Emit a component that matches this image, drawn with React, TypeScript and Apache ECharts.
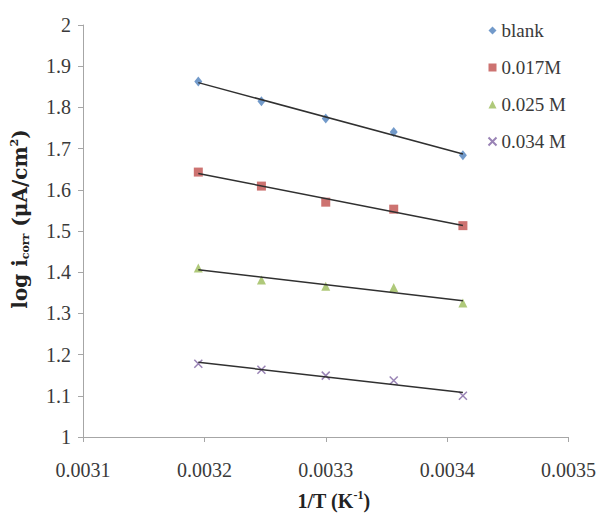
import React, { useEffect, useRef } from "react";
import * as echarts from "echarts";

const xVals = [0.003195, 0.003247, 0.0033, 0.003356, 0.003413];
const blank = [1.863, 1.815, 1.773, 1.74, 1.684];
const m017 = [1.643, 1.609, 1.57, 1.553, 1.513];
const m025 = [1.41, 1.381, 1.366, 1.363, 1.325];
const m034 = [1.178, 1.163, 1.149, 1.137, 1.1];
const seriesNames = ["blank", "0.017M", "0.025 M", "0.034 M"];
const seriesColors = ["#4F81BD", "#C0504D", "#9BBB59", "#8064A2"];
const xTicks = { min: 0.0031, max: 0.0035, interval: 0.0001 };
const yTicks = { min: 1, max: 2, interval: 0.1 };

function fit(xs: number[], ys: number[]): number[][] {
  const n = xs.length;
  const mx = xs.reduce((a, b) => a + b, 0) / n;
  const my = ys.reduce((a, b) => a + b, 0) / n;
  let sxy = 0;
  let sxx = 0;
  for (let i = 0; i < n; i++) {
    sxy += (xs[i] - mx) * (ys[i] - my);
    sxx += (xs[i] - mx) * (xs[i] - mx);
  }
  const b = sxy / sxx;
  const a = my - b * mx;
  const x0 = xs[0];
  const x1 = xs[n - 1];
  return [
    [x0, a + b * x0],
    [x1, a + b * x1],
  ];
}

export default function App() {
  const ref = useRef<HTMLDivElement>(null);
  useEffect(() => {
    document.body.style.margin = "0";
    if (!ref.current) return;
    const chart = echarts.init(ref.current, undefined, { renderer: "svg" });
    const font = "'Liberation Serif', 'Times New Roman', serif";
    const titleFont = "'DejaVu Serif', 'Liberation Serif', serif";
    const textColor = "#3a3a3a";
    const all = [blank, m017, m025, m034];
    const symbols = [
      "diamond",
      "rect",
      "triangle",
      "path://M0 0L10 10M10 0L0 10",
    ];
    const sizes = [[8, 10], 9, [9, 9], 8];
    const scatter = all.map((ys, i) => ({
      name: seriesNames[i],
      type: "scatter",
      symbol: symbols[i],
      symbolSize: sizes[i],
      z: 3,
      itemStyle:
        i === 3
          ? { color: "none", borderColor: seriesColors[i], borderWidth: 1.5 }
          : { color: seriesColors[i] },
      data: xVals.map((x, j) => [x, ys[j]]),
    }));
    const trends = all.map((ys, i) => ({
      name: "trend" + i,
      type: "line",
      showSymbol: false,
      z: 4,
      lineStyle: { color: "#303030", width: 1.5 },
      data: fit(xVals, ys),
    }));
    chart.setOption({
      animation: false,
      backgroundColor: "#ffffff",
      grid: { left: 83, right: 29, top: 25, bottom: 76 },
      legend: {
        data: seriesNames,
        orient: "vertical",
        left: 481,
        top: 16,
        itemWidth: 8,
        itemHeight: 8,
        itemGap: 18,
        textStyle: {
          fontFamily: font,
          fontSize: 19,
          color: textColor,
          lineHeight: 19,
        },
      },
      xAxis: {
        type: "value",
        min: xTicks.min,
        max: xTicks.max,
        interval: xTicks.interval,
        name: "{b|1/T (K}{sup|-1}{b|)}",
        nameLocation: "middle",
        nameGap: 52,
        nameTextStyle: {
          padding: [0, 0, 0, 16],
          rich: {
            b: {
              fontFamily: font,
              fontWeight: "bold",
              fontSize: 20,
              color: "#222",
              lineHeight: 22,
              verticalAlign: "bottom",
            },
            sup: {
              fontFamily: font,
              fontWeight: "bold",
              fontSize: 12,
              color: "#222",
              lineHeight: 22,
              verticalAlign: "top",
            },
          },
        },
        axisLine: { lineStyle: { color: "#a6a6a6", width: 1 } },
        axisTick: { show: true, length: 5, lineStyle: { color: "#a6a6a6" } },
        axisLabel: {
          fontFamily: font,
          fontSize: 20,
          color: textColor,
          margin: 23,
          formatter: (v: number) => v.toFixed(4),
        },
        splitLine: { show: false },
      },
      yAxis: {
        type: "value",
        min: yTicks.min,
        max: yTicks.max,
        interval: yTicks.interval,
        name: "{b|log i}{sub|corr}{b| (μA/cm}{sup|2}{b|)}",
        nameLocation: "middle",
        nameRotate: 90,
        nameGap: 52,
        nameTextStyle: {
          padding: [0, 0, 0, 24],
          rich: {
            b: {
              fontFamily: titleFont,
              fontWeight: "bold",
              fontSize: 20,
              color: "#222",
              lineHeight: 22,
              verticalAlign: "middle",
            },
            sub: {
              fontFamily: titleFont,
              fontWeight: "bold",
              fontSize: 11,
              color: "#222",
              lineHeight: 22,
              verticalAlign: "bottom",
            },
            sup: {
              fontFamily: titleFont,
              fontWeight: "bold",
              fontSize: 11,
              color: "#222",
              lineHeight: 22,
              verticalAlign: "top",
            },
          },
        },
        axisLine: { show: true, lineStyle: { color: "#a6a6a6", width: 1 } },
        axisTick: { show: true, length: 5, lineStyle: { color: "#a6a6a6" } },
        axisLabel: {
          fontFamily: font,
          fontSize: 20,
          color: textColor,
          margin: 12,
          formatter: (v: number) => String(parseFloat(v.toFixed(1))),
        },
        splitLine: { show: false },
      },
      series: [...trends, ...scatter],
    });
    return () => chart.dispose();
  }, []);
  return <div ref={ref} style={{ width: 599, height: 516 }} />;
}
